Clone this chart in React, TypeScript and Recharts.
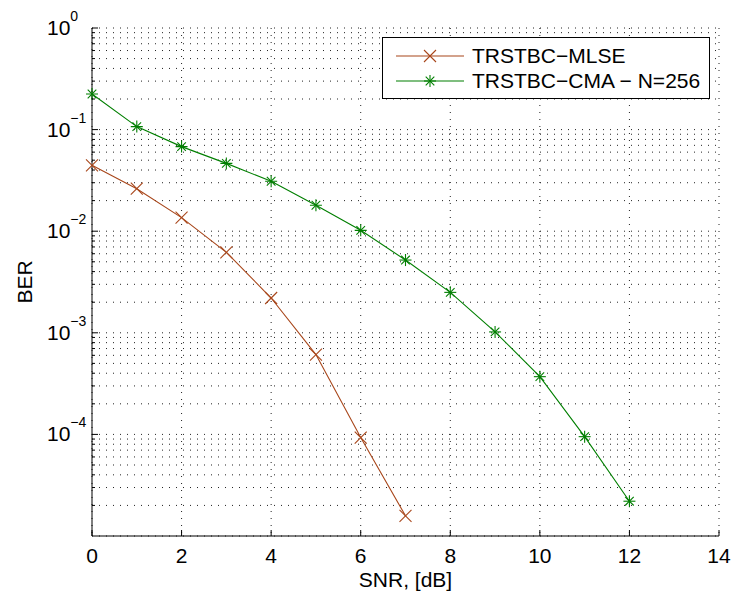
import { LineChart, Line, XAxis, YAxis, CartesianGrid, Legend } from 'recharts';

// SNR points and BER readings
const snr = [0, 1, 2, 3, 4, 5, 6, 7, 8, 9, 10, 11, 12];
const berMlse = [0.0445, 0.0262, 0.0136, 0.0062, 0.0022, 0.00061, 0.000093, 0.0000158];
const berCma = [0.224, 0.107, 0.068, 0.0465, 0.031, 0.018, 0.0102, 0.0052, 0.0025, 0.00102, 0.00037, 0.000095, 0.000022];

const xTicks = [0, 2, 4, 6, 8, 10, 12, 14];
const decadeExps = [0, -1, -2, -3, -4];
const minorExps = [-5, -4, -3, -2, -1];
const minorSteps = [2, 3, 4, 5, 6, 7, 8, 9];

const MLSE_COLOR = '#a8461a';
const CMA_COLOR = '#007f00';
const FONT = '"Liberation Sans", Arial, Helvetica, sans-serif';

const data = snr.map((x, i) => ({ snr: x, mlse: berMlse[i], cma: berCma[i] }));

const yTicks = [
  ...decadeExps.map((e) => Math.pow(10, e)),
  ...minorExps.flatMap((e) => minorSteps.map((m) => m * Math.pow(10, e))),
].sort((a, b) => a - b);

const isDecade = (v: number) => {
  const l = Math.log10(v);
  return Math.abs(l - Math.round(l)) < 1e-6;
};

const Cross = ({ cx, cy, color }: { cx: number; cy: number; color: string }) => (
  <g stroke={color} strokeWidth={1.1}>
    <line x1={cx - 6} y1={cy - 6} x2={cx + 6} y2={cy + 6} />
    <line x1={cx - 6} y1={cy + 6} x2={cx + 6} y2={cy - 6} />
  </g>
);

const Star = ({ cx, cy, color }: { cx: number; cy: number; color: string }) => (
  <g stroke={color} strokeWidth={1.1}>
    <line x1={cx - 6} y1={cy} x2={cx + 6} y2={cy} />
    <line x1={cx} y1={cy - 6} x2={cx} y2={cy + 6} />
    <line x1={cx - 4.3} y1={cy - 4.3} x2={cx + 4.3} y2={cy + 4.3} />
    <line x1={cx - 4.3} y1={cy + 4.3} x2={cx + 4.3} y2={cy - 4.3} />
  </g>
);

const crossDot = (props: any) => {
  const { cx, cy, index } = props;
  if (cx == null || cy == null || props.value == null) return <g key={`c${index}`} />;
  return <Cross key={`c${index}`} cx={cx} cy={cy} color={MLSE_COLOR} />;
};

const starDot = (props: any) => {
  const { cx, cy, index } = props;
  if (cx == null || cy == null || props.value == null) return <g key={`s${index}`} />;
  return <Star key={`s${index}`} cx={cx} cy={cy} color={CMA_COLOR} />;
};

const BottomTick = ({ x, y, payload }: any) => (
  <g>
    <line x1={x} y1={y} x2={x} y2={y - 6} stroke="#000" />
    <text x={x} y={y + 27} textAnchor="middle" fontSize={21} fill="#000" fontFamily={FONT}>
      {payload.value}
    </text>
  </g>
);

const TopTick = ({ x, y }: any) => <line x1={x} y1={y} x2={x} y2={y + 6} stroke="#000" />;

const LeftTick = ({ x, y, payload }: any) => {
  const v = payload.value as number;
  if (!isDecade(v)) return <line x1={x} y1={y} x2={x + 3} y2={y} stroke="#000" />;
  const e = Math.round(Math.log10(v));
  return (
    <g>
      <line x1={x} y1={y} x2={x + 6} y2={y} stroke="#000" />
      <text x={x - 45} y={y + 7} textAnchor="start" fontSize={21} fill="#000" fontFamily={FONT}>
        10
        <tspan dy={-14} fontSize={14}>
          {e < 0 ? `\u2212${-e}` : `${e}`}
        </tspan>
      </text>
    </g>
  );
};

const RightTick = ({ x, y, payload }: any) => {
  const len = isDecade(payload.value) ? 6 : 3;
  return <line x1={x} y1={y} x2={x - len} y2={y} stroke="#000" />;
};

const legendItems = [
  { name: 'TRSTBC\u2212MLSE', color: MLSE_COLOR, Marker: Cross },
  { name: 'TRSTBC\u2212CMA \u2212 N=256', color: CMA_COLOR, Marker: Star },
];

const renderLegend = () => (
  <svg width={330} height={64} style={{ display: 'block' }}>
    <rect x={0.5} y={0.5} width={327} height={61} fill="#fff" stroke="#000" />
    {legendItems.map((it, i) => {
      const cy = 19 + i * 25;
      return (
        <g key={it.name}>
          <line x1={14} y1={cy} x2={82} y2={cy} stroke={it.color} strokeWidth={1.1} />
          <it.Marker cx={48} cy={cy} color={it.color} />
          <text x={90} y={cy + 7} fontSize={21} fill="#000" fontFamily={FONT}>
            {it.name}
          </text>
        </g>
      );
    })}
  </svg>
);

export default function App() {
  return (
    <div style={{ position: 'absolute', left: 0, top: 0, background: '#fff', fontFamily: FONT }}>
      <LineChart width={734} height={596} data={data} margin={{ top: 28, right: 15, bottom: 0, left: 0 }}>
        <CartesianGrid stroke="#222" strokeDasharray="1 6" />
        <XAxis
          dataKey="snr"
          type="number"
          domain={[0, 14]}
          ticks={xTicks}
          interval={0}
          height={60}
          tickSize={0}
          tickMargin={0}
          tickLine={false}
          axisLine={{ stroke: '#000' }}
          tick={BottomTick}
          label={(p: any) => (
            <text
              x={p.viewBox.x + p.viewBox.width / 2}
              y={p.viewBox.y + 51}
              textAnchor="middle"
              fontSize={21}
              fill="#000"
              fontFamily={FONT}
            >
              SNR, [dB]
            </text>
          )}
        />
        <XAxis
          xAxisId="top"
          orientation="top"
          type="number"
          domain={[0, 14]}
          ticks={xTicks}
          interval={0}
          height={0}
          tickSize={0}
          tickMargin={0}
          tickLine={false}
          axisLine={{ stroke: '#000' }}
          tick={TopTick}
        />
        <YAxis
          type="number"
          scale="log"
          domain={[1e-5, 1]}
          allowDataOverflow
          ticks={yTicks}
          interval={0}
          width={92}
          tickSize={0}
          tickMargin={0}
          tickLine={false}
          axisLine={{ stroke: '#000' }}
          tick={LeftTick}
          label={(p: any) => {
            const x = p.viewBox.x + 32;
            const y = p.viewBox.y + p.viewBox.height / 2;
            return (
              <text
                x={x}
                y={y}
                transform={`rotate(-90 ${x} ${y})`}
                textAnchor="middle"
                fontSize={21}
                fill="#000"
                fontFamily={FONT}
              >
                BER
              </text>
            );
          }}
        />
        <YAxis
          yAxisId="right"
          orientation="right"
          type="number"
          scale="log"
          domain={[1e-5, 1]}
          allowDataOverflow
          ticks={yTicks}
          interval={0}
          width={0}
          tickSize={0}
          tickMargin={0}
          tickLine={false}
          axisLine={{ stroke: '#000' }}
          tick={RightTick}
        />
        <Legend
          layout="horizontal"
          verticalAlign="middle"
          align="center"
          content={renderLegend}
          wrapperStyle={{ left: 382, top: 37, width: 330, height: 64 }}
        />
        <Line
          type="linear"
          dataKey="mlse"
          name="TRSTBC-MLSE"
          stroke={MLSE_COLOR}
          strokeWidth={1.1}
          dot={crossDot}
          activeDot={false}
          isAnimationActive={false}
        />
        <Line
          type="linear"
          dataKey="cma"
          name="TRSTBC-CMA - N=256"
          stroke={CMA_COLOR}
          strokeWidth={1.1}
          dot={starDot}
          activeDot={false}
          isAnimationActive={false}
        />
      </LineChart>
    </div>
  );
}
